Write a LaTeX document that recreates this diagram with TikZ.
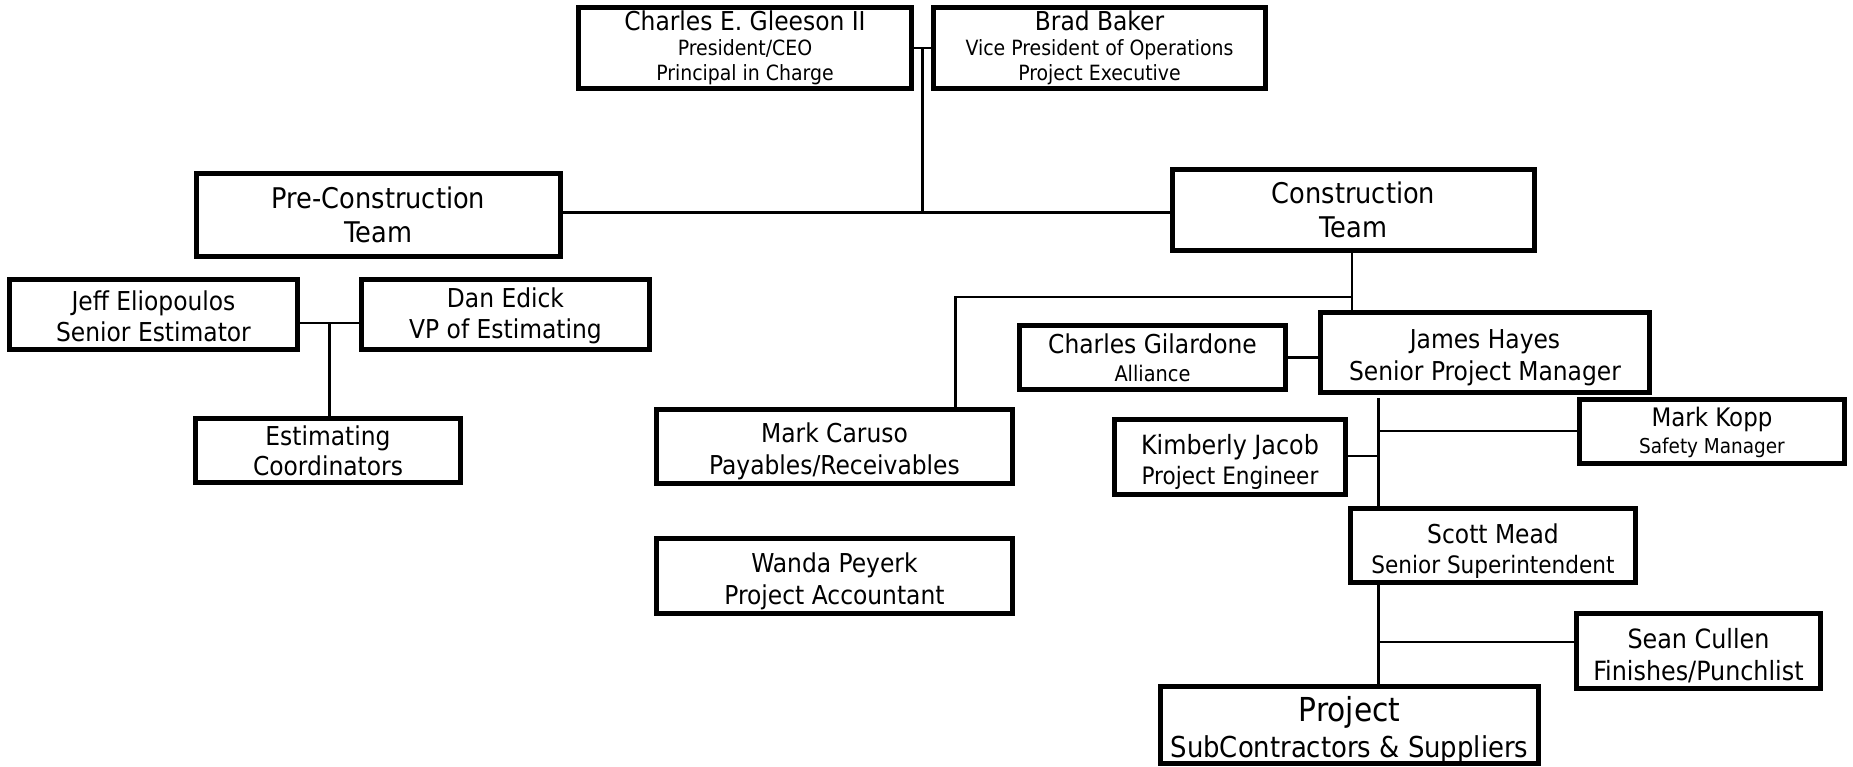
\documentclass[tikz,border=0pt]{standalone}
\usepackage{fontspec}
\setmainfont{DejaVu Sans Condensed}
\newcommand\fs[2]{\fontsize{#1}{#2}\selectfont}
\newcommand\dn[1]{\rule{0pt}{#1pt}}
\tikzset{
  orgbox/.style={draw=black, line width=5pt, fill=white, inner sep=0pt, align=center},
  conn/.style={draw=black, line width=2.6pt},
}
\begin{document}
\begin{tikzpicture}[x=1pt,y=-1pt]
\useasboundingbox[fill=white] (0,0) rectangle (1853,767);
% boxes: minimum size = outer size - line width
\node[orgbox, minimum width=333, minimum height=81, font=\fs{21}{25}] (ceo) at (745,48)
  {{\fs{26}{26}Charles E. Gleeson II}\\President/CEO\\Principal in Charge};
\node[orgbox, minimum width=332, minimum height=81, font=\fs{21}{25}] (brad) at (1099.5,48)
  {{\fs{26}{26}Brad Baker}\\Vice President of Operations\\Project Executive};
\node[orgbox, minimum width=364, minimum height=83, font=\fs{28.5}{34}] (precon) at (378.5,215)
  {Pre-Construction\\Team};
\node[orgbox, minimum width=362, minimum height=81, font=\fs{28.5}{34}] (constr) at (1353.5,210)
  {Construction\\Team};
\node[orgbox, minimum width=288, minimum height=70, font=\fs{26}{31}] (jeff) at (153.5,314.5)
  {\dn{23}Jeff Eliopoulos\\Senior Estimator};
\node[orgbox, minimum width=288, minimum height=70, font=\fs{26}{31}] (dan) at (505.5,314.5)
  {\dn{23}Dan Edick\\VP of Estimating};
\node[orgbox, minimum width=265, minimum height=64, font=\fs{26}{30}] (estc) at (328,450.5)
  {Estimating\\Coordinators};
\node[orgbox, minimum width=356, minimum height=74, font=\fs{26}{32}] (caruso) at (834.5,446.5)
  {\dn{29}Mark Caruso\\Payables/Receivables};
\node[orgbox, minimum width=356, minimum height=75, font=\fs{26}{32}] (wanda) at (834.5,576)
  {\dn{30}Wanda Peyerk\\Project Accountant};
\node[orgbox, minimum width=266, minimum height=64, font=\fs{21.5}{28}] (gil) at (1152.5,357.5)
  {{\fs{26}{26}Charles Gilardone}\\Alliance};
\node[orgbox, minimum width=329, minimum height=80, font=\fs{26}{32}] (hayes) at (1485,352.5)
  {\dn{29}James Hayes\\Senior Project Manager};
\node[orgbox, minimum width=265, minimum height=64, font=\fs{20.5}{27}] (kopp) at (1712,431.5)
  {{\fs{25.5}{26}\dn{22}Mark Kopp}\\Safety Manager};
\node[orgbox, minimum width=231, minimum height=75, font=\fs{24}{30}] (jacob) at (1230,457)
  {{\fs{26.5}{26}\dn{29}Kimberly Jacob}\\Project Engineer};
\node[orgbox, minimum width=285, minimum height=74, font=\fs{24}{30}] (mead) at (1493,545.5)
  {{\fs{26}{26}\dn{30}Scott Mead}\\Senior Superintendent};
\node[orgbox, minimum width=244, minimum height=75, font=\fs{26.5}{32}] (cullen) at (1698.5,651)
  {\dn{29}Sean Cullen\\Finishes/Punchlist};
\node[orgbox, minimum width=378, minimum height=77, font=\fs{28.8}{36}] (project) at (1349.5,725)
  {{\fs{33}{33}\dn{35}Project}\\SubContractors \& Suppliers};
% junction coordinates
\coordinate (j1) at (922.5,48);
\coordinate (j2) at (922.5,212.5);
\coordinate (j3) at (329.5,323);
\coordinate (j4) at (1352,297);
\coordinate (j5) at (955.5,297);
\coordinate (j6) at (1378.5,431);
\coordinate (j7) at (1378.5,456);
\coordinate (j8) at (1378.5,642);
% connectors
\draw[conn] (ceo.east |- j1) -- (brad.west |- j1);
\draw[conn] (j1) -- (j2);
\draw[conn] (precon.east |- j2) -- (constr.west |- j2);
\draw[conn] (jeff.east |- j3) -- (dan.west |- j3);
\draw[conn] (j3) -- (estc.north -| j3);
\draw[conn] (constr.south -| j4) -- (hayes.north -| j4);
\draw[conn] (j4) -- (j5) -- (caruso.north -| j5);
\draw[conn] (gil.east) -- (hayes.west |- gil.east);
\draw[conn, shorten <=3pt] (hayes.south -| j6) -- (mead.north -| j6);
\draw[conn] (j6) -- (kopp.west |- j6);
\draw[conn] (jacob.east |- j7) -- (j7);
\draw[conn] (mead.south -| j8) -- (project.north -| j8);
\draw[conn] (j8) -- (cullen.west |- j8);
\end{tikzpicture}
\end{document}
